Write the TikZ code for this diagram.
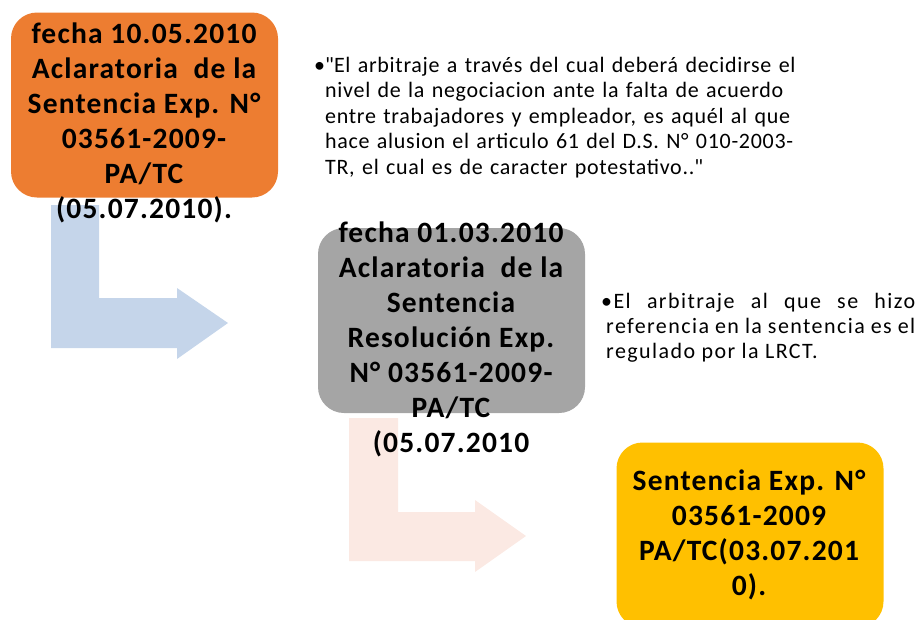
\documentclass[tikz,border=0pt]{standalone}
\usepackage{fontspec}
\setmainfont{Carlito}
\usetikzlibrary{positioning}
\definecolor{naranja}{HTML}{ED7D31}
\definecolor{gris}{HTML}{A5A5A5}
\definecolor{amarillo}{HTML}{FFC000}
\definecolor{flechaazul}{HTML}{C5D5EA}
\definecolor{flecharosa}{HTML}{FBE9E3}
\tikzset{caja/.style={rectangle, rounded corners=26pt, minimum width=267pt, minimum height=185pt, inner sep=0pt}}
\tikzset{titulo/.style={font=\bfseries\fontsize{29.5}{35}\selectfont\addfontfeatures{LetterSpace=4}, align=center, inner sep=0pt, anchor=base}}
\tikzset{cita/.style={font=\fontsize{22}{25.5}\selectfont, inner sep=0pt, anchor=base west}}

\begin{document}
\begin{tikzpicture}[x=1pt, y=-1pt]

    \useasboundingbox (0,0) rectangle (919,619);

    \fill[flechaazul] (51,205) -- (99,205) -- (99,298) -- (177,298) -- (177,288) -- (228,323)
        -- (177,359) -- (177,348) -- (51,348) -- cycle;
    \fill[flecharosa] (349,418) -- (398,418) -- (398,512) -- (475,512) -- (475,500) -- (526,536)
        -- (475,572) -- (475,561) -- (349,561) -- cycle;

    \node[caja, fill=naranja] (cajaA) at (144.5,105) {};
    \node[caja, fill=gris] (cajaB) at (451.5,320.5) {};
    \node[caja, fill=amarillo] (cajaC) at (750,535) {};

    \node[titulo] (fechaA) at (144,218) {fecha 10.05.2010\\ Aclaratoria~ de la\\ Sentencia Exp. N°\\ 03561-2009-\\ PA/TC\\ (05.07.2010).};
    \node[titulo] (fechaB) at (451,452) {fecha 01.03.2010\\ Aclaratoria~ de la\\ Sentencia\\ Resolución Exp.\\ N° 03561-2009-\\ PA/TC\\ (05.07.2010};
    \node[titulo] (fechaC) at (749,595) {Sentencia Exp. N°\\ 03561-2009\\ PA/TC(03.07.201\\ 0).};

    \node[cita] (vinetaA) at (314,72) {•};
    \node[cita, text width=510pt, align=left, font=\fontsize{22}{25.5}\selectfont\addfontfeatures{LetterSpace=3.2}] (citaA) at (325,72) {\textquotedbl El arbitraje a través del cual deberá decidirse el\newline nivel de la negociacion ante la falta de acuerdo\newline entre trabajadores y empleador, es aquél al que\newline hace alusion el articulo 61 del D.S. N° 010-2003-\newline TR, el cual es de caracter potestativo..\textquotedbl};

    \node[cita, text width=309pt, align=justify, font=\fontsize{22}{25}\selectfont\addfontfeatures{LetterSpace=6.5}] (citaB) at (606,308) {\hspace*{-5pt}•El arbitraje al que se hizo\linebreak referencia en la sentencia es el\linebreak regulado por la LRCT.};

\end{tikzpicture}
\end{document}
